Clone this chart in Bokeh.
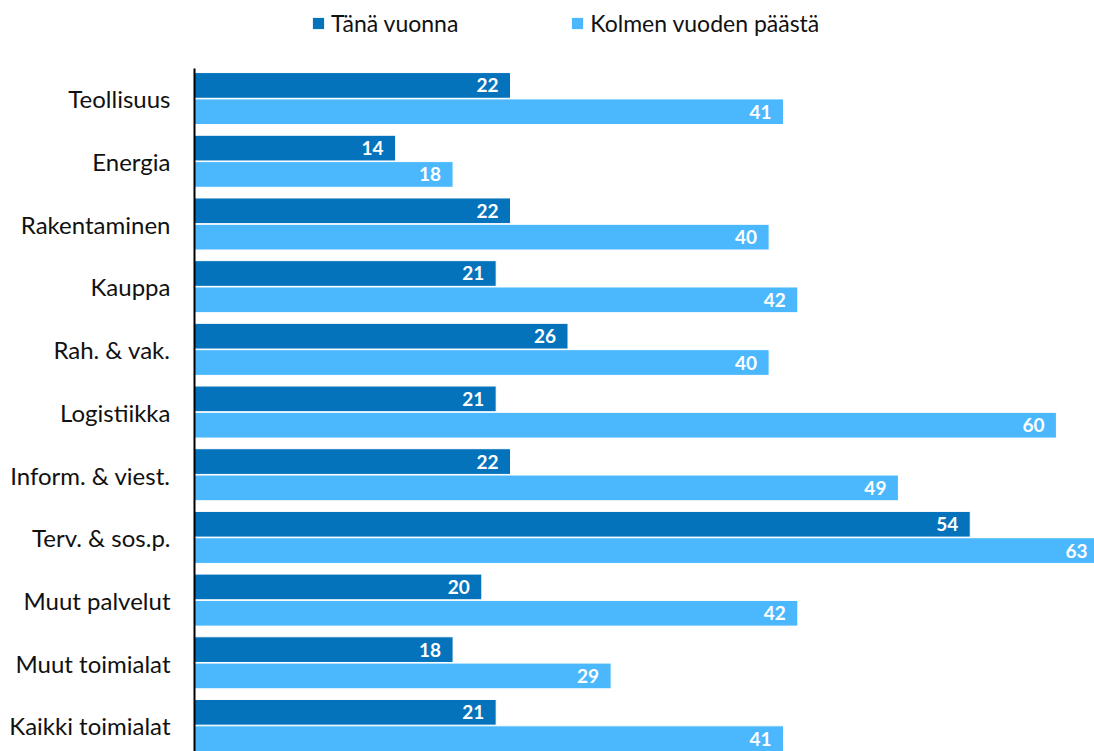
from bokeh.plotting import figure
from bokeh.layouts import column
from bokeh.models import ColumnDataSource, Range1d, Legend, LegendItem, FixedTicker
from bokeh.core.properties import value
from bokeh.transform import dodge
from bokeh.embed import file_html
from bokeh.resources import INLINE

categories = ["Teollisuus", "Energia", "Rakentaminen", "Kauppa", "Rah. & vak.",
              "Logistiikka", "Inform. & viest.", "Terv. & sos.p.", "Muut palvelut",
              "Muut toimialat", "Kaikki toimialat"]
series_names = ["Tänä vuonna", "Kolmen vuoden päästä"]
this_year = [22, 14, 22, 21, 26, 21, 22, 54, 20, 18, 21]
in_three_years = [41, 18, 40, 42, 40, 60, 49, 63, 42, 29, 41]

DARK = "#0473BB"
LIGHT = "#4BB8FE"
FONT = "Lato"

n = len(categories)
pos = list(range(n - 1, -1, -1))  # first category at the top

src = ColumnDataSource(dict(
    pos=pos,
    a=this_year,
    b=in_three_years,
    la=[str(v) for v in this_year],
    lb=[str(v) for v in in_three_years],
))

TOP = 68
FW, FH = 900, 683
p = figure(frame_width=FW, frame_height=FH, output_backend="svg", toolbar_location=None,
           y_range=Range1d(-0.41, n - 1 + 0.485),
           x_range=Range1d(0, 62.65),
           min_border_left=194, min_border_right=0, min_border_bottom=0,
           min_border_top=0)
p.outline_line_color = None
p.xgrid.visible = False
p.ygrid.visible = False
p.xaxis.visible = False

ya = dodge("pos", 0.215)
yb = dodge("pos", -0.205)

ra = p.hbar(y=ya, right="a", left=0, height=0.41, source=src,
            fill_color=DARK, line_color="white", line_width=1)
rb = p.hbar(y=yb, right="b", left=0, height=0.41, source=src,
            fill_color=LIGHT, line_color="white", line_width=1)

for yy, col in ((ya, "a"), (yb, "b")):
    p.text(x=col, y=yy, text="l" + col, source=src, x_offset=-12,
           text_align="right", text_baseline="middle", text_color="white",
           text_font=value(FONT), text_font_style="bold", text_font_size="19px")

ax = p.yaxis[0]
ax.ticker = FixedTicker(ticks=pos)
ax.major_label_overrides = {p_: c for p_, c in zip(pos, categories)}
ax.axis_line_color = "black"
ax.axis_line_width = 2
ax.major_tick_line_color = None
ax.minor_tick_line_color = None
ax.major_label_text_font = FONT
ax.major_label_text_font_size = "24px"
ax.major_label_text_color = "#111111"
ax.major_label_standoff = 18

# legend strip above the chart (swatch renderers hold no drawable data)
nan = float("nan")
lg = figure(frame_width=FW + 194, frame_height=TOP, output_backend="svg",
            toolbar_location=None, x_range=Range1d(0, 1), y_range=Range1d(0, 1),
            min_border=0)
lg.outline_line_color = None
lg.axis.visible = False
lg.grid.visible = False
la_r = lg.hbar(y=[nan], left=[nan], right=[nan], height=0.5, fill_color=DARK, line_color=None)
lb_r = lg.hbar(y=[nan], left=[nan], right=[nan], height=0.5, fill_color=LIGHT, line_color=None)

legend = Legend(items=[LegendItem(label=series_names[0], renderers=[la_r]),
                       LegendItem(label=series_names[1], renderers=[lb_r])],
                orientation="horizontal", location=(311, 31),
                label_text_font=FONT, label_text_font_size="23px",
                label_text_color="#111111",
                glyph_width=14, glyph_height=14, spacing=112,
                border_line_color=None, background_fill_alpha=0,
                padding=4, margin=0, label_standoff=6)
lg.add_layout(legend, "center")

layout = column(lg, p, spacing=0)
open("out.html", "w").write(file_html(layout, INLINE))
